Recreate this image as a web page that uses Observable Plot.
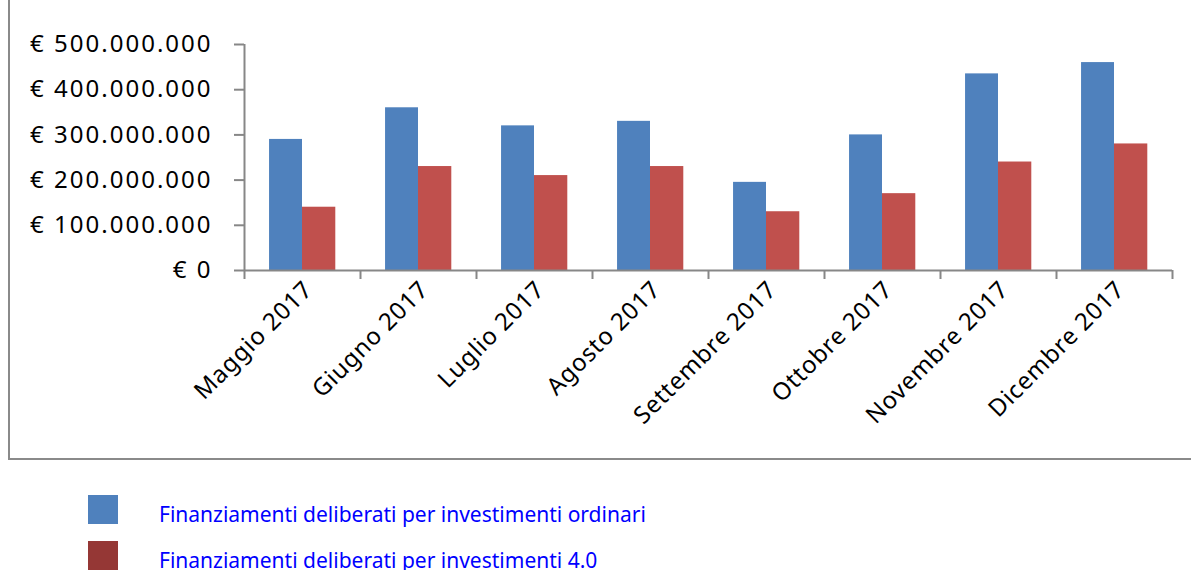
<!DOCTYPE html>
<html>
<head>
<meta charset="utf-8">
<script src="https://cdn.jsdelivr.net/npm/d3@7"></script>
<script src="https://cdn.jsdelivr.net/npm/@observablehq/plot@0.6"></script>
<style>
  html, body { margin: 0; padding: 0; background: #fff; }
  #wrap { position: relative; width: 1191px; height: 570px; overflow: hidden; background: #fff; }
  #box { position: absolute; left: 8px; top: -6px; width: 1190px; height: 466px; border: 2px solid #8a8a8a; box-sizing: border-box; }
  #chart { position: absolute; left: 0; top: 0; }
  #chart g[aria-label="x-axis tick label"] { letter-spacing: 0.8px; }
  .leg-item { position: absolute; left: 88px; height: 30px; }
  .leg-swatch { position: absolute; left: 0; top: 0; width: 30px; height: 29px; }
  .leg-text { position: absolute; left: 71px; top: 4px; white-space: nowrap; font-family: "Noto Sans", sans-serif; font-size: 21px; line-height: 30px; color: #0000ff; }
</style>
</head>
<body>
<div id="wrap">
  <div id="box"></div>
  <div id="chart"></div>
  <div id="legend"></div>
</div>
<script>
// ---- data ----
const months = ["Maggio 2017", "Giugno 2017", "Luglio 2017", "Agosto 2017", "Settembre 2017", "Ottobre 2017", "Novembre 2017", "Dicembre 2017"];
const seriesNames = ["Finanziamenti deliberati per investimenti ordinari", "Finanziamenti deliberati per investimenti 4.0"];
const ordinari = [290e6, 360e6, 320e6, 330e6, 195e6, 300e6, 435e6, 460e6];
const investimenti40 = [140e6, 230e6, 210e6, 230e6, 130e6, 170e6, 240e6, 280e6];
const yTicks = [0, 100e6, 200e6, 300e6, 400e6, 500e6];

// ---- styling ----
const barColors = ["#4F81BD", "#C0504D"];
const legendColors = ["#4F81BD", "#953735"];
const axisGray = "#878787";

const W = 1191, H = 460;
const mL = 244, mR = W - 1172, mT = 44, mB = H - 270;
const bw = (W - mL - mR) / months.length;

const rows = months.map((m, i) => ({month: m, ordinari: ordinari[i], inv40: investimenti40[i]}));
const fmt = d => "€ " + d3.format(",")(d).replace(/,/g, ".");

const plot = Plot.plot({
  width: W,
  height: H,
  marginLeft: mL,
  marginRight: mR,
  marginTop: mT,
  marginBottom: mB,
  style: "font-family: 'Noto Sans', sans-serif; font-size: 24px; letter-spacing: 2px; background: transparent; overflow: visible;",
  x: {type: "band", domain: months, padding: 0},
  y: {domain: [0, yTicks[yTicks.length - 1]]},
  marks: [
    Plot.barY(rows, {x: "month", y: "ordinari", fill: barColors[0], insetLeft: bw * 0.216, insetRight: bw * 0.5}),
    Plot.barY(rows, {x: "month", y: "inv40", fill: barColors[1], insetLeft: bw * 0.5, insetRight: bw * 0.213}),
    Plot.ruleY([0], {stroke: axisGray, strokeWidth: 2}),
    Plot.ruleX(months.slice(0, 1), {x: d => d, dx: -bw / 2, y1: yTicks[yTicks.length - 1], y2: 0, insetBottom: -9, stroke: axisGray, strokeWidth: 2}),
    Plot.ruleX(months.slice(1), {x: d => d, dx: -bw / 2, y1: 0, y2: 0, insetBottom: -9, stroke: axisGray, strokeWidth: 2}),
    Plot.ruleX(months.slice(-1), {x: d => d, dx: bw / 2, y1: 0, y2: 0, insetBottom: -9, stroke: axisGray, strokeWidth: 2}),
    Plot.axisY({ticks: yTicks, tickFormat: fmt, tickSize: 10, tickPadding: 22, stroke: axisGray, strokeWidth: 2, fill: "black", label: null}),
    Plot.axisX({tickSize: 0, tickRotate: -45, tickPadding: 15, dx: 6, fill: "black", label: null})
  ]
});
document.getElementById("chart").appendChild(plot);

// legend
const legend = document.getElementById("legend");
const legTops = [495, 541];
seriesNames.forEach((name, i) => {
  const item = document.createElement("div");
  item.className = "leg-item";
  item.style.top = legTops[i] + "px";
  const sw = document.createElement("div");
  sw.className = "leg-swatch";
  sw.style.background = legendColors[i];
  const tx = document.createElement("div");
  tx.className = "leg-text";
  tx.textContent = name;
  item.appendChild(sw);
  item.appendChild(tx);
  legend.appendChild(item);
});
</script>
</body>
</html>
